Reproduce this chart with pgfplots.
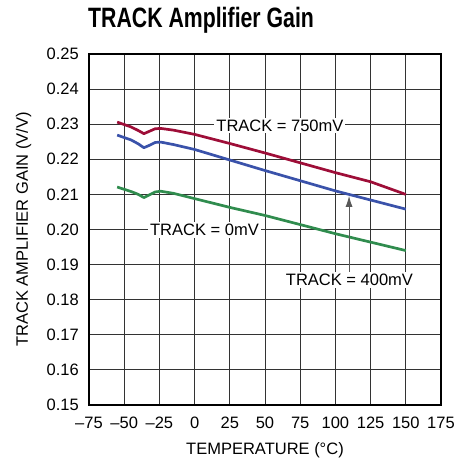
\documentclass[border=0pt]{standalone}
\usepackage{fontspec}
\setmainfont{Liberation Sans}
\newfontfamily\titlefont{Liberation Sans}[FakeStretch=0.76]
\usepackage{pgfplots}
\pgfplotsset{compat=1.18}
\usetikzlibrary{arrows.meta}
\definecolor{redc}{RGB}{158,14,56}
\definecolor{bluec}{RGB}{58,82,170}
\definecolor{greenc}{RGB}{48,140,78}
\begin{document}
\begin{tikzpicture}
\path[use as bounding box] (-89pt,-54pt) rectangle (368pt,405pt);
\begin{axis}[
    at={(0,0)}, anchor=south west,
    scale only axis,
    width=352pt, height=351pt,
    xmin=-75, xmax=175, ymin=0.15, ymax=0.25,
    xtick={-75,-50,...,175},
    xticklabels={–75,–50,–25,0,25,50,75,100,125,150,175},
    ytick={0.15,0.16,...,0.25},
    yticklabel style={/pgf/number format/fixed, /pgf/number format/precision=2,
        /pgf/number format/fixed zerofill, anchor=east, inner sep=0pt, xshift=-10pt},
    xticklabel style={anchor=base, inner sep=0pt, yshift=-23pt},
    /pgf/number format/assume math mode=true,
    ticklabel style={font=\fontsize{16.5}{18}\selectfont},
    label style={font=\fontsize{16.5}{18}\selectfont},
    xlabel={TEMPERATURE (°C)},
    ylabel={TRACK AMPLIFIER GAIN (V/V)},
    xlabel style={at={(axis description cs:0.5,0)}, anchor=base, inner sep=0pt, yshift=-49pt},
    ylabel style={at={(axis description cs:0,0.5)}, anchor=base, inner sep=0pt, yshift=61pt},
    grid=major,
    grid style={black!80, line width=0.9pt},
    axis line style={black, line width=1.5pt},
    major tick length=0pt,
    title={\titlefont\bfseries\fontsize{28}{30}\selectfont TRACK Amplifier Gain},
    title style={at={(0,1)}, anchor=base west, inner sep=0pt, xshift=-1pt, yshift=21pt},
    every axis plot/.append style={line width=2.7pt, line join=round},
]
\addplot[redc] coordinates {
 (-55,0.2306) (-45,0.2292) (-40,0.2282) (-36,0.2273) (-32,0.2280) (-28,0.2287) (-24,0.2288)
 (-15,0.2283) (0,0.2271) (25,0.2245) (50,0.2218) (75,0.2190) (100,0.2162) (125,0.2136) (150,0.2100)};
\addplot[bluec] coordinates {
 (-55,0.2269) (-45,0.2255) (-40,0.2244) (-36,0.2233) (-32,0.2240) (-28,0.2248) (-24,0.2249)
 (-15,0.2242) (0,0.2228) (25,0.2198) (50,0.2168) (75,0.2139) (100,0.2110) (125,0.2084) (150,0.2058)};
\addplot[greenc] coordinates {
 (-55,0.2121) (-45,0.2108) (-40,0.2100) (-36,0.2091) (-32,0.2099) (-28,0.2107) (-24,0.2109)
 (-15,0.2103) (0,0.2088) (25,0.2063) (50,0.2040) (75,0.2014) (100,0.1988) (125,0.1964) (150,0.1940)};
\node[fill=white, inner sep=2pt, font=\fontsize{16.5}{18}\selectfont] at (axis cs:60.6,0.2296) {TRACK = 750mV};
\node[fill=white, inner sep=2pt, font=\fontsize{16.5}{18}\selectfont] at (axis cs:7,0.1999) {TRACK = 0mV};
\node[fill=white, inner sep=2pt, font=\fontsize{16.5}{18}\selectfont] at (axis cs:110,0.1856) {TRACK = 400mV};
\draw[-{Latex[length=11pt,width=7pt]}, black!65, line width=1pt] (axis cs:109.7,0.1880) -- (axis cs:109.7,0.2096);
\end{axis}
\end{tikzpicture}
\end{document}
